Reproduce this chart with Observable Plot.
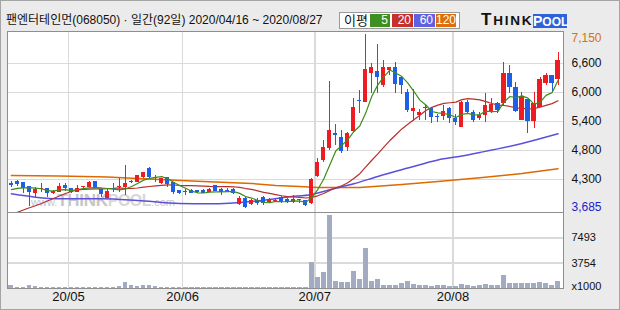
<!DOCTYPE html>
<html><head><meta charset="utf-8">
<script src="https://cdn.jsdelivr.net/npm/d3@7"></script>
<script src="https://cdn.jsdelivr.net/npm/@observablehq/plot@0.6"></script>
<style>
body{margin:0;background:#fff;}
#wrap{position:relative;width:620px;height:310px;background:#ebebeb;overflow:hidden;font-family:"Liberation Sans","Noto Sans CJK KR",sans-serif;color:#111;}
.abs{position:absolute;white-space:nowrap;}
.lg{position:absolute;top:14px;height:13px;color:#fff;font-size:12px;line-height:13px;text-align:right;box-sizing:border-box;padding-right:2px;}
</style></head><body>
<div id="wrap">
  <div class="abs" style="left:0;top:0;width:620px;height:310px;box-sizing:border-box;border:1px solid #a4a4a4;"></div>
  <div class="abs" id="title" style="left:6px;top:13px;font-size:12px;line-height:14px;">팬엔터테인먼(068050) · 일간(92일) 2020/04/16 ~ 2020/08/27</div>
  <div class="abs" style="left:339px;top:12px;width:121px;height:17px;box-sizing:border-box;border:1px solid #9a9a9a;background:#fff;"></div>
  <div class="abs" style="left:344px;top:13px;font-size:13px;line-height:14px;font-family:'Noto Sans CJK KR';">이평</div>
  <div class="lg" style="left:370px;width:20px;background:#3f8f22;">5</div>
  <div class="lg" style="left:392px;width:21px;background:#c5322b;">20</div>
  <div class="lg" style="left:414px;width:21px;background:#6060e0;">60</div>
  <div class="lg" style="left:436px;width:20px;background:#dc6e0c;">120</div>
  <div class="abs" style="left:481px;top:12px;font-weight:900;color:#111;line-height:16px;letter-spacing:1.8px;"><span style="font-size:17px;">T</span><span style="font-size:13.5px;">HINK</span></div>
  <div class="abs" style="left:533px;top:14px;width:34px;height:14px;background:#2d62d8;color:#fff;font-weight:900;line-height:14px;text-align:center;"><span style="font-size:14px;">P</span><span style="font-size:12px;">OOL</span></div>
  <div class="abs" style="left:7px;top:31px;width:556px;height:181px;background:#fff;"></div>
  <div class="abs" style="left:7px;top:212px;width:556px;height:76px;background:#fff;"></div>
  <div class="abs" style="left:31px;top:192px;color:#c6c6c6;line-height:18px;"><span style="font-size:11px;">www.</span><span style="font-size:17px;font-weight:bold;letter-spacing:-0.3px;">THINK</span><span style="font-size:16px;font-weight:bold;color:#d8d8d8;letter-spacing:-0.5px;">POOL</span><span style="font-size:11px;">.com</span></div>
  <div id="price" class="abs" style="left:0;top:31px;"></div>
  <div id="vol" class="abs" style="left:0;top:212px;"></div>
</div>
<script>
// ---- data (92 trading days, 2020/04/16 .. 2020/08/27) ----
const open  = [4177,4230,4197,4124,3991,4065,4078,3979,4011,4144,4078,4011,4098,4111,4223,4065,3879,4090,4100,4111,
               4220,4210,4309,4476,4310,4177,4297,4197,4044,4030,4044,4040,4044,4011,4144,4064,4050,4064,3765,3891,
               3765,3852,3911,3805,3830,3897,3865,3805,3860,3845,3790,4323,4640,4880,5170,5093,4894,5225,5840,5802,
               6380,6420,6135,6440,6487,6300,6000,5617,5538,5690,5670,5520,5524,5670,5484,5305,5790,5604,5471,5538,
               5604,5770,5783,6380,6102,5438,5850,5424,5703,6168,6334,6248];
const high  = [4230,4250,4210,4130,4111,4177,4080,4040,4177,4177,4090,4137,4130,4230,4230,4070,4078,4177,4277,4542,
               4240,4350,4410,4500,4343,4290,4300,4210,4050,4058,4060,4050,4060,4080,4150,4078,4080,4078,3931,3900,
               3870,3880,3931,3890,3890,3920,3880,3945,3870,3850,4280,4690,5035,6214,5352,5239,5200,5870,6035,7150,
               6567,6951,6632,6500,6587,6320,6050,6049,5650,5740,5700,5560,5740,5690,5550,5810,5830,5640,5604,5970,
               5870,5790,6599,6533,6201,6002,5850,6002,6300,6380,6334,6798];
const low   = [4098,4130,3979,3720,3911,4011,3911,3960,3998,4031,3990,3998,4090,4078,4090,3911,3859,4011,4011,3945,
               4180,4200,4290,4270,4210,4170,4111,3965,3965,3945,3980,3990,3980,4000,4020,3945,3998,3965,3745,3685,
               3750,3745,3745,3790,3810,3790,3785,3790,3790,3720,3760,4300,4600,4840,4940,4774,4830,5200,5571,5790,
               5970,5970,6100,6330,5970,5955,5604,5424,5438,5438,5385,5400,5438,5385,5331,5305,5560,5400,5430,5404,
               5584,5571,5737,5970,5604,5438,5185,5272,5703,6140,6002,6135];
const close = [4144,4157,4078,4011,4058,4085,3979,4031,4124,4078,3998,4085,4124,4197,4098,3965,4031,4070,4115,4190,
               4205,4343,4396,4297,4290,4277,4157,4011,3979,4011,3991,3998,3991,4064,4031,3998,4030,3979,3891,3713,
               3852,3785,3785,3865,3850,3810,3800,3860,3840,3745,4263,4602,4907,5239,5140,4827,5173,5690,5810,6447,
               6487,6300,6487,6487,6155,6135,5637,5683,5604,5670,5491,5504,5617,5471,5404,5803,5604,5438,5538,5737,
               5750,5637,6367,6089,5624,5916,5424,5770,6248,6334,6182,6633];
// volume, x1000 shares
const volume = [440,200,220,490,250,180,200,150,200,160,150,170,150,200,180,200,220,180,250,930,
                440,300,490,490,250,200,200,220,180,160,170,160,150,160,170,160,150,160,180,200,
                170,160,170,150,160,170,150,180,160,200,3860,1660,2400,10870,1070,930,930,2540,1270,5920,
                1070,1370,490,490,490,780,1070,640,490,490,340,400,400,340,250,640,490,340,400,640,
                490,490,1910,780,700,700,780,780,880,700,490,1070];
// moving averages before enough in-window closes exist
const ma5Start  = [4060,4085,4095,4100];
const ma20Start = [3566,3610,3656,3700,3740,3785,3835,3885,3935,3984,4024,4054,4064,4070,4074,4074,4078,4084,4094];
// 60- and 120-day averages at candle indices
const ma60Idx = [0,4,8,15,21,28,33,40,43,46,50,53,57,61,66,71,75,78,85,91];
const ma60Val = [3978,3911,3879,3879,3845,3785,3779,3825,3865,3915,3965,4058,4178,4323,4490,4652,4731,4801,4980,5173];
const ma120Idx = [0,8,16,21,31,34,40,44,48,51,58,65,71,78,85,91];
const ma120Val = [4343,4333,4313,4283,4230,4213,4183,4144,4124,4104,4104,4164,4223,4297,4383,4476];
// axes
const priceTicks  = [7150,6572.5,5995,5417.5,4840,4262.5,3685];
const priceLabels = ["7,150","6,600","6,000","5,400","4,800","4,300","3,685"];
const volTicks  = [7493,3754,0];
const volLabels = ["7493","3754","x1000"];
const monthStart  = [10,29,51,74];
const monthLabels = ["20/05","20/06","20/07","20/08"];

// ---- build ----
const RED = "#ee1c22", BLUE = "#1f5ee6";
const candles = close.map((c,i) => ({i, o: open[i], h: high[i], l: low[i], c, v: volume[i]}));
const ma5  = close.map((c,i) => ({i, v: i < 4  ? ma5Start[i]  : d3.mean(close.slice(i-4, i+1))}));
const ma20 = close.map((c,i) => ({i, v: i < 19 ? ma20Start[i] : d3.mean(close.slice(i-19, i+1))}));
const ma60 = ma60Idx.map((i,k) => ({i, v: ma60Val[k]}));
const ma120 = ma120Idx.map((i,k) => ({i, v: ma120Val[k]}));
const col = d => d.c >= d.o ? RED : BLUE;
const xDomain = [-0.649, 91.91];
const gridC = "#dadada", frameC = "#8e8e8e";

const price = Plot.plot({
  width: 620, height: 181, marginLeft: 7, marginRight: 57, marginTop: 0, marginBottom: 0,
  style: {background: "transparent", overflow: "visible", fontFamily: "Liberation Sans"},
  x: {domain: xDomain, axis: null},
  y: {domain: [3605.4, 7209.7], axis: null},
  marks: [
    Plot.ruleY(priceTicks.slice(1, -1), {stroke: gridC, strokeWidth: 1.5, shapeRendering: "crispEdges"}),
    Plot.ruleX(monthStart, {x: d => d - 0.5, stroke: gridC, strokeWidth: 1.5, shapeRendering: "crispEdges"}),
    Plot.line(ma120, {x: "i", y: "v", stroke: "#dc6a00", strokeWidth: 1.5, clip: true}),
    Plot.line(ma60, {x: "i", y: "v", stroke: "#5a50dc", strokeWidth: 1.5, clip: true, curve: "monotone-x"}),
    Plot.line(ma20, {x: "i", y: "v", stroke: "#b82e2e", strokeWidth: 1.2, clip: true}),
    Plot.ruleX(candles, {x: "i", y1: "l", y2: "h", stroke: col, strokeWidth: 1, shapeRendering: "crispEdges"}),
    Plot.rect(candles, {x1: d => d.i - 0.34, x2: d => d.i + 0.34, y1: "o", y2: "c", fill: col, shapeRendering: "crispEdges"}),
    Plot.line(ma5, {x: "i", y: "v", stroke: "#3d8c1c", strokeWidth: 1.2, clip: true}),
    Plot.frame({stroke: frameC, shapeRendering: "crispEdges"}),
    Plot.text(priceTicks, {y: d => d, frameAnchor: "right", dx: 8, textAnchor: "start",
      text: (d, i) => priceLabels[i], fontSize: 12,
      fill: (d, i) => i === 0 ? "#d6720e" : i === priceTicks.length - 1 ? "#1c1cc8" : "#111"})
  ]
});
document.getElementById("price").append(price);
// nudge extreme labels inside the panel like the reference
price.querySelectorAll("text").forEach(t => {
  if (t.textContent === priceLabels[0]) t.setAttribute("dy", "4");
  if (t.textContent === priceLabels[priceLabels.length - 1]) t.setAttribute("dy", "-1");
});

const vol = Plot.plot({
  width: 620, height: 98, marginLeft: 7, marginRight: 57, marginTop: 0, marginBottom: 22,
  style: {background: "transparent", overflow: "visible", fontFamily: "Liberation Sans"},
  x: {domain: xDomain, axis: null},
  y: {domain: [0, 11240], axis: null},
  marks: [
    Plot.ruleY(volTicks.slice(0, 2), {stroke: gridC, strokeWidth: 1.5, shapeRendering: "crispEdges"}),
    Plot.ruleX(monthStart, {x: d => d - 0.5, stroke: gridC, strokeWidth: 1.5, shapeRendering: "crispEdges"}),
    Plot.rect(candles, {x1: d => d.i - 0.4, x2: d => d.i + 0.4, y1: 0, y2: "v", fill: "#a3abc2", shapeRendering: "crispEdges"}),
    Plot.frame({stroke: frameC, shapeRendering: "crispEdges"}),
    Plot.text(volTicks, {y: d => d, frameAnchor: "right", dx: 8, textAnchor: "start",
      text: (d, i) => volLabels[i], fontSize: 11, fill: "#111"}),
    Plot.text(monthStart, {x: d => d - 0.5, frameAnchor: "bottom", dy: 12, text: (d, i) => monthLabels[i], fontSize: 13, fill: "#111"})
  ]
});
document.getElementById("vol").append(vol);
vol.querySelectorAll("text").forEach(t => { if (t.textContent === "x1000") t.setAttribute("dy", "-2"); });
</script>
</body></html>
